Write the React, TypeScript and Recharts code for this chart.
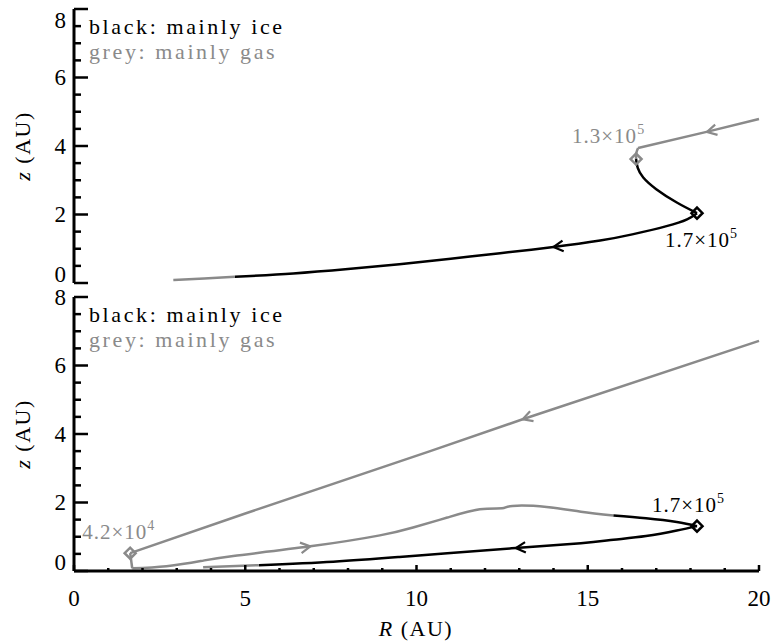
import { ComposedChart, Line, Scatter, XAxis, YAxis } from 'recharts'

const GREY = '#8a8a8a'
const INK = '#000'
const FONT = '"Liberation Serif", "DejaVu Serif", serif'

// tick values (minor + major)
const xTicks = [0, 1, 2, 3, 4, 5, 6, 7, 8, 9, 10, 11, 12, 13, 14, 15, 16, 17, 18, 19, 20]
const yTicks = [0, 0.5, 1, 1.5, 2, 2.5, 3, 3.5, 4, 4.5, 5, 5.5, 6, 6.5, 7, 7.5, 8]
const xMajor = [0, 5, 10, 15, 20]
const yMajor = [0, 2, 4, 6, 8]

// top panel tracks
const topGasIn = [{ R: 20, z: 4.79 }, { R: 18.5, z: 4.42 }, { R: 16.47, z: 3.94 }]
const topGasBend = [{ R: 16.47, z: 3.94 }, { R: 16.42, z: 3.8 }, { R: 16.41, z: 3.62 }]
const topIceDown = [
  { R: 16.41, z: 3.62 }, { R: 16.46, z: 3.36 }, { R: 16.62, z: 3.08 }, { R: 17.0, z: 2.74 }, { R: 17.6, z: 2.35 },
  { R: 18.19, z: 2.04 },
]
const topIceBack = [
  { R: 18.19, z: 2.04 }, { R: 17.9, z: 1.86 }, { R: 17.3, z: 1.66 }, { R: 16.3, z: 1.42 }, { R: 15.36, z: 1.24 },
  { R: 14.0, z: 1.05 }, { R: 12.44, z: 0.87 }, { R: 11.0, z: 0.71 }, { R: 9.5, z: 0.55 }, { R: 8.0, z: 0.41 },
  { R: 6.4, z: 0.28 }, { R: 4.7, z: 0.18 },
]
const topGasOut = [{ R: 4.7, z: 0.18 }, { R: 3.8, z: 0.13 }, { R: 2.9, z: 0.09 }]
const topArrows = [
  { R: 18.48, z: 4.41, toR: 16.47, toZ: 3.94, phase: 'gas' },
  { R: 14.0, z: 1.05, toR: 12.44, toZ: 0.87, phase: 'ice' },
]
const topMarks = [
  { id: 'a', R: 16.41, z: 3.62, mant: '1.3×10', exp: '5', phase: 'gas' },
  { id: 'b', R: 18.19, z: 2.04, mant: '1.7×10', exp: '5', phase: 'ice' },
]

// bottom panel tracks
const botGasIn = [{ R: 20, z: 6.72 }, { R: 13.1, z: 4.43 }, { R: 10.4, z: 3.5 }, { R: 5, z: 1.68 }, { R: 1.64, z: 0.52 }]
const botGasDrop = [{ R: 1.64, z: 0.52 }, { R: 1.7, z: 0.08 }]
const botGasLow = [
  { R: 1.7, z: 0.08 }, { R: 2.7, z: 0.14 }, { R: 3.7, z: 0.29 }, { R: 4.65, z: 0.44 }, { R: 6.9, z: 0.72 },
  { R: 8.93, z: 1.04 }, { R: 9.9, z: 1.27 }, { R: 10.9, z: 1.56 }, { R: 11.85, z: 1.8 }, { R: 12.5, z: 1.83 },
  { R: 12.8, z: 1.9 }, { R: 13.8, z: 1.87 }, { R: 14.8, z: 1.73 }, { R: 15.75, z: 1.62 },
]
const botIceIn = [{ R: 15.75, z: 1.62 }, { R: 16.7, z: 1.54 }, { R: 17.6, z: 1.43 }, { R: 18.19, z: 1.31 }]
const botIceBack = [
  { R: 18.19, z: 1.31 }, { R: 17.6, z: 1.18 }, { R: 16.7, z: 1.02 }, { R: 15.75, z: 0.91 }, { R: 14.8, z: 0.81 },
  { R: 12.9, z: 0.67 }, { R: 10.9, z: 0.52 }, { R: 9.5, z: 0.41 }, { R: 7.57, z: 0.27 }, { R: 5.4, z: 0.17 },
]
const botGasOut = [{ R: 5.4, z: 0.17 }, { R: 3.77, z: 0.11 }]
const botArrows = [
  { R: 13.1, z: 4.43, toR: 10.4, toZ: 3.5, phase: 'gas' },
  { R: 6.9, z: 0.72, toR: 8.93, toZ: 1.04, phase: 'gas' },
  { R: 12.9, z: 0.67, toR: 10.9, toZ: 0.52, phase: 'ice' },
]
const botMarks = [
  { id: 'c', R: 1.64, z: 0.52, mant: '4.2×10', exp: '4', phase: 'gas' },
  { id: 'd', R: 18.19, z: 1.31, mant: '1.7×10', exp: '5', phase: 'ice' },
]

// label placement relative to the diamond (px): [dx of text start, dy of baseline]
const markLabelPos: Record<string, [number, number]> = {
  a: [-64, -16],
  b: [-32, 34],
  c: [-48, -14],
  d: [-45, -14],
}

const col = (phase: string) => (phase === 'ice' ? INK : GREY)

const Arrow = (p: any) => {
  const { cx, cy, payload } = p
  const ang = Math.atan2(-(payload.toZ - payload.z), payload.toR - payload.R)
  const L = 11
  const a = 0.5
  const x1 = cx - L * Math.cos(ang - a)
  const y1 = cy - L * Math.sin(ang - a)
  const x2 = cx - L * Math.cos(ang + a)
  const y2 = cy - L * Math.sin(ang + a)
  return (
    <polyline
      points={`${x1},${y1} ${cx},${cy} ${x2},${y2}`}
      fill="none"
      stroke={col(payload.phase)}
      strokeWidth={2.2}
    />
  )
}

const Mark = (p: any) => {
  const { cx, cy, payload } = p
  const c = col(payload.phase)
  const s = 5.5
  const [dx, dy] = markLabelPos[payload.id]
  return (
    <g>
      <polygon
        points={`${cx - s},${cy} ${cx},${cy - s} ${cx + s},${cy} ${cx},${cy + s}`}
        fill="none"
        stroke={c}
        strokeWidth={2.5}
      />
      <text x={cx + dx} y={cy + dy} fill={c} fontSize={21} letterSpacing={1} fontFamily={FONT}>
        {payload.mant}
        <tspan dy={-9} fontSize={14}>{payload.exp}</tspan>
      </text>
    </g>
  )
}

const leftTick = (isTop: boolean) => (p: any) => {
  const v = p.payload.value
  const major = yMajor.includes(v)
  let dy = 0
  if (v === 0) dy = -9
  if (v === 8 && isTop) dy = 11
  return (
    <g>
      <line x1={p.x} x2={p.x + (major ? 14 : 7)} y1={p.y} y2={p.y} stroke={INK} strokeWidth={2.5} />
      {major && (
        <text x={p.x - 8} y={p.y + dy} textAnchor="end" dominantBaseline="central" fontSize={23} fontFamily={FONT}>
          {v}
        </text>
      )}
    </g>
  )
}

const rightTick = (p: any) => {
  const major = yMajor.includes(p.payload.value)
  return <line x1={p.x} x2={p.x - (major ? 14 : 7)} y1={p.y} y2={p.y} stroke={INK} strokeWidth={2.5} />
}

const bottomTick = (withLabels: boolean) => (p: any) => {
  const v = p.payload.value
  const major = xMajor.includes(v)
  return (
    <g>
      <line x1={p.x} x2={p.x} y1={p.y} y2={p.y - (major ? 6 : 3)} stroke={INK} strokeWidth={2.5} />
      {withLabels && major && (
        <text x={p.x} y={p.y + 27} textAnchor="middle" dominantBaseline="central" fontSize={23} fontFamily={FONT}>
          {v}
        </text>
      )}
    </g>
  )
}

const topTick = (p: any) => {
  const major = xMajor.includes(p.payload.value)
  return <line x1={p.x} x2={p.x} y1={p.y} y2={p.y + (major ? 6 : 3)} stroke={INK} strokeWidth={2.5} />
}

const axisLine = { stroke: INK, strokeWidth: 3 }

type Seg = { data: { R: number; z: number }[]; phase: string; curve: 'linear' | 'natural' }

function Panel(props: {
  segs: Seg[]
  arrows: any[]
  marks: any[]
  isTop: boolean
  height: number
  margin: { top: number; right: number; bottom: number; left: number }
  xAxisHeight: number
}) {
  const { segs, arrows, marks, isTop, height, margin, xAxisHeight } = props
  const plotTop = margin.top
  const plotBottom = height - margin.bottom - xAxisHeight
  const midY = (plotTop + plotBottom) / 2
  return (
    <ComposedChart width={775} height={height} margin={margin} style={{ overflow: 'visible' }}>
      <XAxis
        xAxisId="b"
        dataKey="R"
        type="number"
        domain={[0, 20]}
        ticks={xTicks}
        interval={0}
        height={xAxisHeight}
        tickSize={0}
        tickMargin={0}
        tickLine={false}
        axisLine={axisLine}
        tick={bottomTick(!isTop)}
      />
      <XAxis
        xAxisId="t"
        orientation="top"
        dataKey="R"
        type="number"
        domain={[0, 20]}
        ticks={xTicks}
        interval={0}
        height={0}
        tickSize={0}
        tickMargin={0}
        tickLine={false}
        axisLine={axisLine}
        tick={topTick}
      />
      <YAxis
        yAxisId="l"
        dataKey="z"
        type="number"
        domain={[0, 8]}
        ticks={yTicks}
        interval={0}
        width={74}
        tickSize={0}
        tickMargin={0}
        tickLine={false}
        axisLine={axisLine}
        tick={leftTick(isTop)}
      />
      <YAxis
        yAxisId="r"
        orientation="right"
        dataKey="z"
        type="number"
        domain={[0, 8]}
        ticks={yTicks}
        interval={0}
        width={0}
        tickSize={0}
        tickMargin={0}
        tickLine={false}
        axisLine={axisLine}
        tick={rightTick}
      />
      {segs.map((s, i) => (
        <Line
          key={i}
          data={s.data}
          xAxisId="b"
          yAxisId="l"
          dataKey="z"
          type={s.curve}
          stroke={col(s.phase)}
          strokeWidth={2.5}
          dot={false}
          activeDot={false}
          isAnimationActive={false}
        />
      ))}
      <Scatter data={arrows} xAxisId="b" yAxisId="l" dataKey="z" shape={Arrow} isAnimationActive={false} />
      <Scatter data={marks} xAxisId="b" yAxisId="l" dataKey="z" shape={Mark} isAnimationActive={false} />
      <text x={89} y={plotTop + 25} fontSize={22} letterSpacing={2.6} fontFamily={FONT} fill={INK}>
        black: mainly ice
      </text>
      <text x={89} y={plotTop + 50} fontSize={22} letterSpacing={2.6} fontFamily={FONT} fill={GREY}>
        grey: mainly gas
      </text>
      <text
        x={22}
        y={midY}
        transform={`rotate(-90 22 ${midY})`}
        textAnchor="middle"
        dominantBaseline="central"
        fontSize={22}
        letterSpacing={1.5}
        fontFamily={FONT}
      >
        <tspan fontStyle="italic">z</tspan> (AU)
      </text>
      {!isTop && (
        <text
          x={416}
          y={plotBottom + 57}
          textAnchor="middle"
          dominantBaseline="central"
          fontSize={22}
          letterSpacing={1.5}
          fontFamily={FONT}
        >
          <tspan fontStyle="italic">R</tspan> (AU)
        </text>
      )}
    </ComposedChart>
  )
}

export default function App() {
  return (
    <div style={{ position: 'absolute', left: 0, top: 0, width: 775, height: 643, background: '#fff' }}>
      <div style={{ position: 'absolute', left: 0, top: 0 }}>
        <Panel
          segs={[
            { data: topGasIn, phase: 'gas', curve: 'linear' },
            { data: topGasBend, phase: 'gas', curve: 'natural' },
            { data: topIceDown, phase: 'ice', curve: 'natural' },
            { data: topIceBack, phase: 'ice', curve: 'natural' },
            { data: topGasOut, phase: 'gas', curve: 'natural' },
          ]}
          arrows={topArrows}
          marks={topMarks}
          isTop
          height={290}
          margin={{ top: 9, right: 16, bottom: 7, left: 0 }}
          xAxisHeight={0}
        />
      </div>
      <div style={{ position: 'absolute', left: 0, top: 278 }}>
        <Panel
          segs={[
            { data: botGasIn, phase: 'gas', curve: 'linear' },
            { data: botGasDrop, phase: 'gas', curve: 'linear' },
            { data: botGasLow, phase: 'gas', curve: 'natural' },
            { data: botIceIn, phase: 'ice', curve: 'natural' },
            { data: botIceBack, phase: 'ice', curve: 'natural' },
            { data: botGasOut, phase: 'gas', curve: 'linear' },
          ]}
          arrows={botArrows}
          marks={botMarks}
          isTop={false}
          height={365}
          margin={{ top: 19, right: 16, bottom: 0, left: 0 }}
          xAxisHeight={72}
        />
      </div>
    </div>
  )
}
